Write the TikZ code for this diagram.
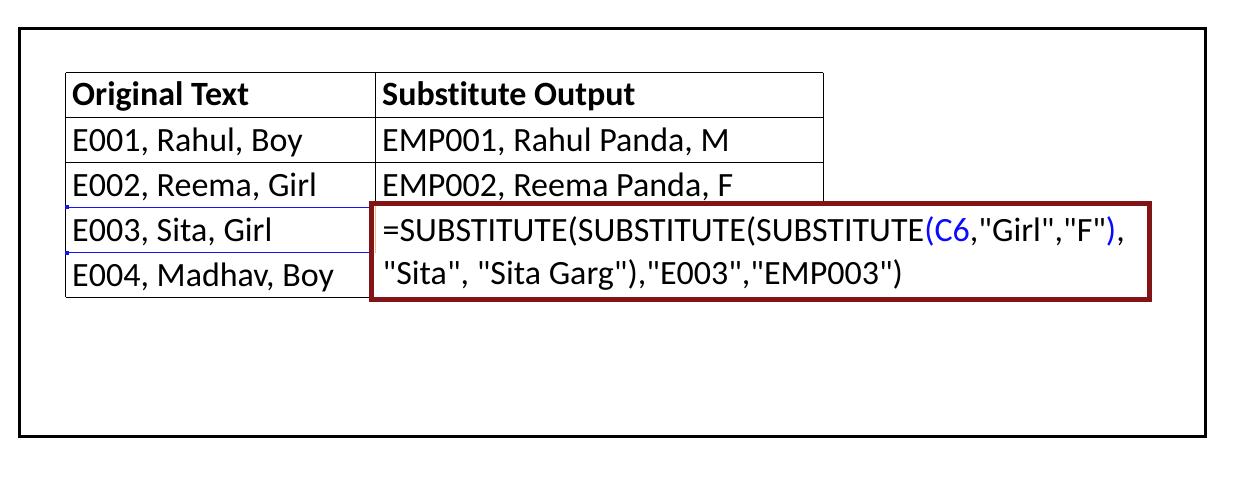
\documentclass[tikz,border=0pt]{standalone}
\usepackage{fontspec}
\setmainfont{Carlito}[Ligatures={TeXOff,NoCommon}]
\definecolor{boxred}{RGB}{130,20,22}
\definecolor{selblue}{RGB}{20,20,235}
\definecolor{fblue}{RGB}{10,10,255}
\definecolor{curs}{RGB}{245,185,120}
\begin{document}
\begin{tikzpicture}[x=1pt,y=-1pt,
  cell/.style={anchor=base west, inner sep=0pt, font=\fontsize{34}{40}\selectfont},
  head/.style={cell, font=\fontsize{34}{40}\selectfont\bfseries},
  grid/.style={line width=1pt, black},
  sel/.style={line width=1pt, selblue}]
\useasboundingbox (0,0) rectangle (1246,478);
% outer frame
\draw[line width=3.5pt] (19.5,28.5) rectangle (1205.3,436.7);
% table grid
\draw[grid] (65.7,72.7) -- (823.3,72.7);
\draw[grid] (65.7,117.3) -- (823.3,117.3);
\draw[grid] (65.7,162.7) -- (823.3,162.7);
\draw[grid] (65.7,207.3) -- (823.3,207.3);
\draw[grid] (65.7,297.3) -- (375.7,297.3);
\draw[grid] (65.7,72.7) -- (65.7,297.3);
\draw[grid] (375.7,72.7) -- (375.7,297.3);
\draw[grid] (823.3,72.7) -- (823.3,207.3);
% selection of E003 cell
\draw[sel] (65.7,207.3) -- (372,207.3);
\draw[sel] (65.7,252.3) -- (372,252.3);
\fill[selblue] (64.5,205.5) rectangle (68.5,209.5);
\fill[selblue] (64.5,250.5) rectangle (68.5,254.5);
% texts
\node[head] (h1) at (72,106) {Original Text};
\node[head] (h2) at (382,106) {Substitute Output};
\node[cell] (a1) at (72,151.5) {E001, Rahul, Boy};
\node[cell] (b1) at (382,151.5) {EMP001, Rahul Panda, M};
\node[cell] (a2) at (72,196.5) {E002, Reema, Girl};
\node[cell] (b2) at (382,196.5) {EMP002, Reema Panda, F};
\node[cell] (a3) at (72,241.5) {E003, Sita, Girl};
\node[cell] (a4) at (72,286.5) {E004, Madhav, Boy};
% formula box
\draw[boxred, line width=5pt, fill=white] (371.7,203.5) rectangle (1149,299);
\draw[curs, line width=1.3pt] (375.2,206.5) -- (375.2,253);
\node[cell] (f1) at (382.5,241) {=SUBSTITUTE(SUBSTITUTE(SUBSTITUTE\textcolor{fblue}{(C6},"Girl","F"\textcolor{fblue}{)},};
\node[cell] (f2) at (382.5,284) {"Sita", "Sita Garg"),"E003","EMP003")};
\end{tikzpicture}
\end{document}
